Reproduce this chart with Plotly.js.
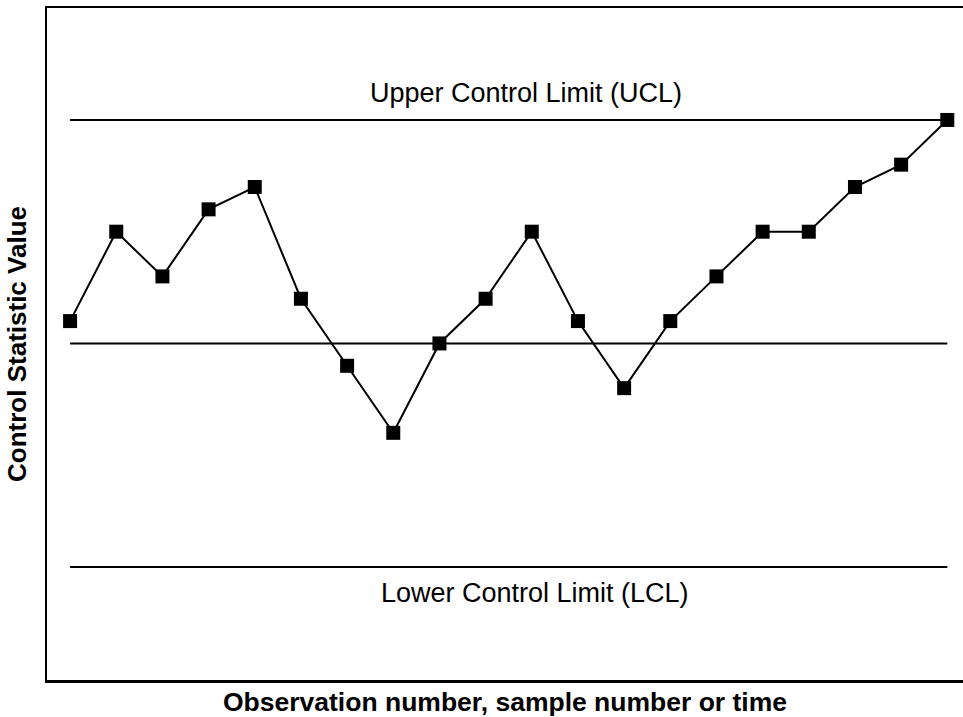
<!DOCTYPE html>
<html>
<head>
<meta charset="utf-8">
<script src="https://cdn.plot.ly/plotly-3.0.1.min.js"></script>
<style>html,body{margin:0;padding:0;background:#fff;}#chart{width:963px;height:717px;}</style>
</head>
<body>
<div id="chart"></div>
<script>
const observations = [1,2,3,4,5,6,7,8,9,10,11,12,13,14,15,16,17,18,19,20];
const statisticValues = [1,5,3,6,7,2,-1,-4,0,2,5,1,-2,1,3,5,5,7,8,10];
const uclValues = [10,10,10,10,10,10,10,10,10,10,10,10,10,10,10,10,10,10,10,10];
const centerValues = [0,0,0,0,0,0,0,0,0,0,0,0,0,0,0,0,0,0,0,0];
const lclValues = [-10,-10,-10,-10,-10,-10,-10,-10,-10,-10,-10,-10,-10,-10,-10,-10,-10,-10,-10,-10];
const uclLabel = "Upper Control Limit (UCL)";
const lclLabel = "Lower Control Limit (LCL)";

const FONT = "Liberation Sans, Arial, Helvetica, sans-serif";
const limitLine = {color: "#000", width: 2};

const traces = [
  {x: observations, y: uclValues, mode: "lines", line: limitLine, hoverinfo: "skip"},
  {x: observations, y: centerValues, mode: "lines", line: limitLine, hoverinfo: "skip"},
  {x: observations, y: lclValues, mode: "lines", line: limitLine, hoverinfo: "skip"},
  {x: observations, y: statisticValues, mode: "lines+markers",
   line: {color: "#000", width: 2},
   marker: {symbol: "square", size: 14, color: "#000"}}
];

const layout = {
  width: 963, height: 717,
  margin: {l: 47, r: 0, t: 8, b: 37},
  paper_bgcolor: "#fff", plot_bgcolor: "#fff",
  showlegend: false,
  font: {family: FONT, color: "#000"},
  xaxis: {
    range: [0.5, 20.34],
    showgrid: false, zeroline: false, showticklabels: false, ticks: "",
    showline: true, mirror: true, linecolor: "#000", linewidth: 2.5,
    title: {text: "Observation number, sample number or time", font: {size: 26.5, family: FONT, weight: "bold"}, standoff: 11}
  },
  yaxis: {
    range: [-15.06, 15.01],
    showgrid: false, zeroline: false, showticklabels: false, ticks: "",
    showline: true, linecolor: "#000", linewidth: 2.5,
    title: {text: "Control Statistic Value", font: {size: 26, family: FONT, weight: "bold"}, standoff: 11}
  },
  annotations: [
    {x: 10.87, y: uclValues[0], xref: "x", yref: "y", text: uclLabel, showarrow: false,
     yanchor: "bottom", yshift: 10, font: {size: 27, family: FONT, color: "#000"}},
    {x: 11.06, y: lclValues[0], xref: "x", yref: "y", text: lclLabel, showarrow: false,
     yanchor: "top", yshift: -9, font: {size: 27, family: FONT, color: "#000"}}
  ]
};

Plotly.newPlot("chart", traces, layout, {displayModeBar: false, staticPlot: true});
</script>
</body>
</html>
